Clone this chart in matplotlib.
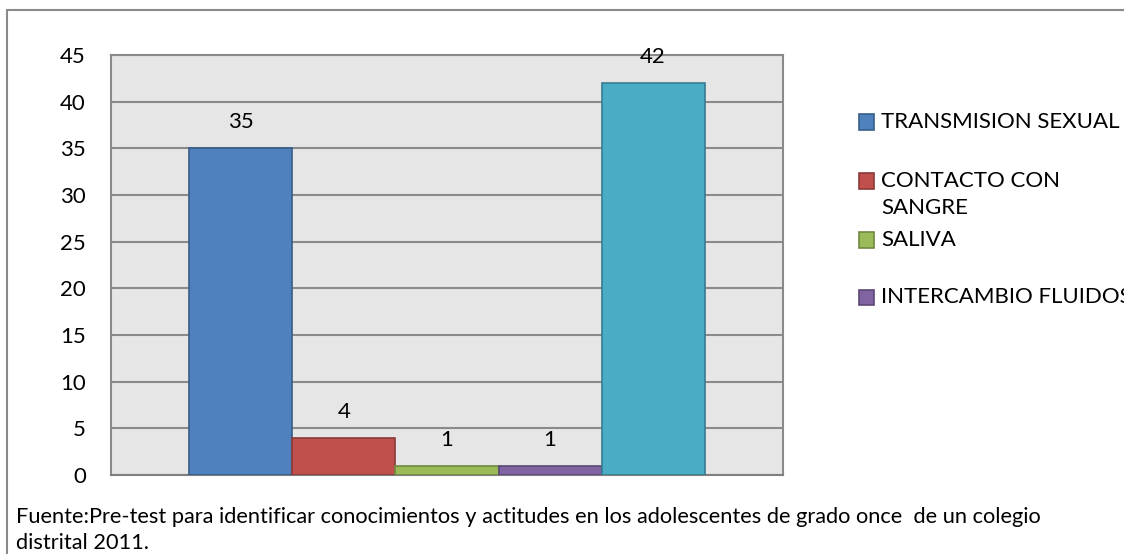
import matplotlib.pyplot as plt
from matplotlib.patches import Rectangle

# data
categories = ['TRANSMISION SEXUAL', 'CONTACTO CON\nSANGRE', 'SALIVA',
              'INTERCAMBIO FLUIDOS', 'OTROS']
values = [35, 4, 1, 1, 42]
yticks = [0, 5, 10, 15, 20, 25, 30, 35, 40, 45]
footer = ('Fuente:Pre-test para identificar conocimientos y actitudes en los '
          'adolescentes de grado once  de un colegio\ndistrital 2011.')

colors = ['#4f81bd', '#c0504d', '#9bbb59', '#8064a2', '#4bacc6']
edges = ['#385d8a', '#8c3836', '#71893f', '#5c4776', '#357d91']

plt.rcParams['font.family'] = ['Lato', 'DejaVu Sans']

W, H = 1124, 554
fig = plt.figure(figsize=(W / 100, H / 100), dpi=100)
ax = fig.add_axes([111 / W, 1 - 475 / H, 672 / W, 420 / H])

x = list(range(len(values)))
ax.bar(x, values, width=1.0, color=colors, edgecolor=edges, linewidth=1.2, zorder=3)
for xi, v in zip(x, values):
    ax.annotate(str(v), (xi, v), xytext=(0, 26), textcoords='offset pixels',
                ha='center', va='center', fontsize=16, zorder=4)

ax.set_xlim(-1.26, 5.26)
ax.set_ylim(0, 45)
ax.set_yticks(yticks)
ax.set_xticks([])
ax.tick_params(axis='y', length=0, pad=18, labelsize=16)
ax.set_facecolor('#e6e6e6')
ax.grid(axis='y', color='#8a8a8a', linewidth=1.5, zorder=1)
for s in ax.spines.values():
    s.set_color('#8a8a8a')
    s.set_linewidth(1.5)
ax.spines['bottom'].set_color('#7f7f7f')

# legend (only the first four series fit inside the frame, the last one is clipped)
legend_y = [122, 181, 240, 297]
for name, c, e, ly in zip(categories[:4], colors, edges, legend_y):
    fig.add_artist(Rectangle((859 / W, 1 - (ly + 7.5) / H), 15 / W, 15 / H,
                             transform=fig.transFigure, facecolor=c,
                             edgecolor=e, linewidth=1.2))
    fig.text(881 / W, 1 - (ly - 10) / H, name, ha='left', va='top',
             fontsize=16, linespacing=1.45)

fig.text(16 / W, 1 - 507 / H, footer, ha='left', va='top', fontsize=15.7,
         linespacing=1.35)

# outer chart frame
fig.add_artist(Rectangle((7 / W, -0.1), 1.2, 1.1 - 10 / H, transform=fig.transFigure,
                         fill=False, edgecolor='#8a8a8a', linewidth=1.5))

fig.savefig('out.png', dpi=100)
